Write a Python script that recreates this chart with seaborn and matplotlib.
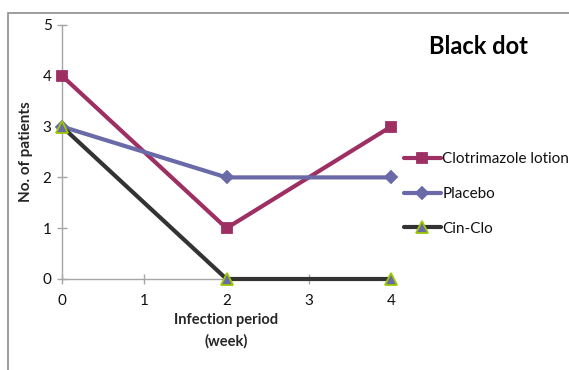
import matplotlib
matplotlib.use("Agg")
import matplotlib.pyplot as plt
import seaborn as sns
import pandas as pd
from matplotlib.patches import Rectangle

weeks = [0, 2, 4]
clotrimazole = [4, 1, 3]
placebo = [3, 2, 2]
cinclo = [3, 0, 0]
series_names = ["Clotrimazole lotion", "Placebo", "Cin-Clo"]
title = "Black dot"

sns.set_theme(style="white")
plt.rcParams['font.family'] = ['Lato', 'DejaVu Sans']

fig = plt.figure(figsize=(5.69, 3.70), dpi=100)
ax = fig.add_axes([62/569, 1-279/370, (391-62)/569, (279-25)/370])

df = pd.DataFrame({
    "week": weeks * 3,
    "value": clotrimazole + placebo + cinclo,
    "series": [series_names[0]]*3 + [series_names[1]]*3 + [series_names[2]]*3,
})

styles = {
    series_names[0]: dict(color="#9E2F62", marker="s", mfc="#9E2F62", mec="#9E2F62", ms=7),
    series_names[1]: dict(color="#6A6AA8", marker="D", mfc="#6A6AA8", mec="#6A6AA8", ms=6.5),
    series_names[2]: dict(color="#333333", marker="^", mfc="#6A6AA8", mec="#9BC800", ms=8.5),
}
for name in series_names:
    sub = df[df.series == name]
    st = styles[name]
    sns.lineplot(data=sub, x="week", y="value", ax=ax, color=st["color"], lw=3,
                 marker=st["marker"], markersize=st["ms"], markerfacecolor=st["mfc"],
                 markeredgecolor=st["mec"], markeredgewidth=1.3, label=name)
for ln in ax.lines:
    ln.set_clip_on(False)
    ln.set_zorder(5)

ax.set_xlim(0, 4)
ax.set_ylim(0, 5)
ax.set_xticks([0, 1, 2, 3, 4])
ax.set_yticks([0, 1, 2, 3, 4, 5])
for s in ["top", "right"]:
    ax.spines[s].set_visible(False)
for s in ["left", "bottom"]:
    ax.spines[s].set_color("#A6A6A6")
    ax.spines[s].set_linewidth(1)
ax.tick_params(axis="both", which="both", direction="inout", length=7, width=1,
               color="#A6A6A6", labelsize=11, labelcolor="#111111", pad=4,
               left=True, bottom=True)
ax.tick_params(axis="x", pad=7)
ax.set_xlabel("Infection period\n(week)", fontsize=10.5, fontweight="bold", linespacing=1.6, labelpad=4)
ax.set_ylabel("No. of patients", fontsize=11, fontweight="bold", labelpad=7)
ax.text(478/569, 1-47/370, title, transform=fig.transFigure, ha="center", va="center",
        fontsize=17, fontweight="bold", color="black")

leg = ax.legend(loc="center left", bbox_to_anchor=(398/569, 1-194/370),
                bbox_transform=fig.transFigure, frameon=False, fontsize=11,
                handlelength=2.4, labelspacing=1.35, handletextpad=0.1, borderaxespad=0)
for t in leg.get_texts():
    t.set_color("#111111")

fig.patches.append(Rectangle((8/569, -0.1), 1.2, 1.1-13/370, transform=fig.transFigure,
                             fill=False, edgecolor="#8C8C8C", lw=1.2, clip_on=False))

fig.savefig("out.png", dpi=100)
